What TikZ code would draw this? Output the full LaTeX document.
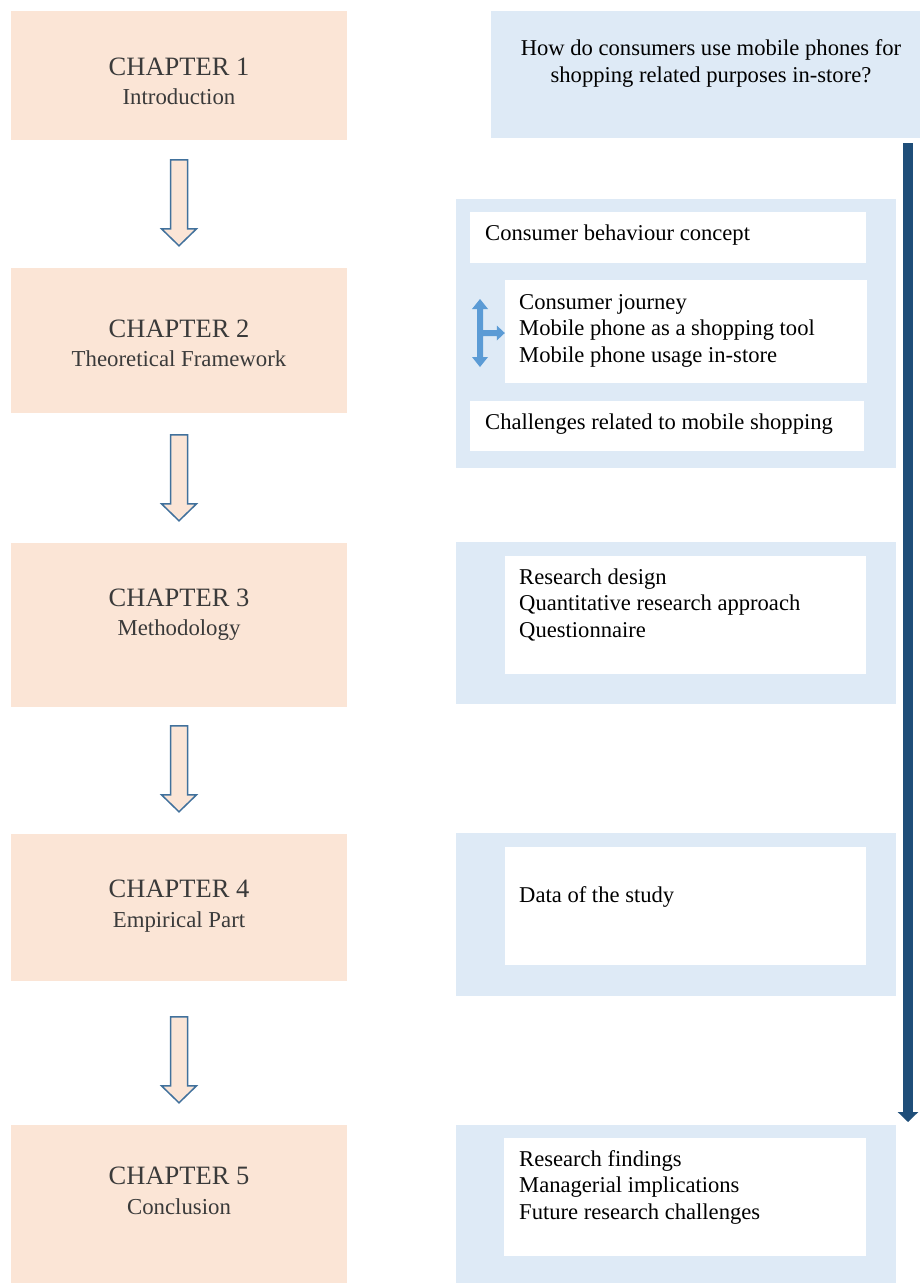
\documentclass[tikz,border=0pt]{standalone}
\usepackage{fontspec}
\setmainfont{Liberation Serif}
\usetikzlibrary{calc,arrows.meta}
\definecolor{chapfill}{HTML}{FBE5D6}
\definecolor{panelfill}{HTML}{DEEAF6}
\definecolor{arrline}{HTML}{41719C}
\definecolor{darkblue}{HTML}{1F4E79}
\definecolor{midblue}{HTML}{5B9BD5}
\definecolor{chaptext}{HTML}{3A3A3A}
\tikzset{
  chapbox/.style={fill=chapfill, draw=none},
  panel/.style={fill=panelfill, draw=none},
  whitebox/.style={fill=white, draw=none},
  chaptitle/.style={font=\fontsize{26.5}{30}\selectfont, text=chaptext, inner sep=0pt, anchor=base},
  chapsub/.style={font=\fontsize{22.8}{27}\selectfont, text=chaptext, inner sep=0pt, anchor=base},
  txt/.style={font=\fontsize{22.6}{26.5}\selectfont, text=black, inner sep=0pt, anchor=base west},
  blockarr/.style={fill=chapfill, draw=arrline, line width=1.5pt, line join=miter},
  branchar/.style={fill=midblue, draw=none},
}
\newcommand{\chaparrow}[1]{%
  \draw[blockarr] ($(#1.north)+(-8.5,-108)$) -- ($(#1.north)+(8.5,-108)$) -- ($(#1.north)+(8.5,-39)$) -- ($(#1.north)+(17.5,-39)$) -- ($(#1.north)+(0,-22)$) -- ($(#1.north)+(-17.5,-39)$) -- ($(#1.north)+(-8.5,-39)$) -- cycle;}
\begin{document}
\begin{tikzpicture}[x=1pt,y=-1pt]
\useasboundingbox (0,0) rectangle (920,1283);
\fill[white] (0,0) rectangle (920,1283);
% chapter boxes
\node[chapbox, minimum width=336pt, minimum height=129pt, inner sep=0pt] (c1) at (179,75.5) {};
\node[chapbox, minimum width=336pt, minimum height=145pt, inner sep=0pt] (c2) at (179,340.5) {};
\node[chapbox, minimum width=336pt, minimum height=164pt, inner sep=0pt] (c3) at (179,625) {};
\node[chapbox, minimum width=336pt, minimum height=147pt, inner sep=0pt] (c4) at (179,907.5) {};
\node[chapbox, minimum width=336pt, minimum height=158pt, inner sep=0pt] (c5) at (179,1204) {};
\node[chaptitle] (c1t) at (179,75) {CHAPTER 1};
\node[chapsub] (c1s) at (179,104) {Introduction};
\node[chaptitle] (c2t) at (179,337) {CHAPTER 2};
\node[chapsub] (c2s) at (179,366) {Theoretical Framework};
\node[chaptitle] (c3t) at (179,606) {CHAPTER 3};
\node[chapsub] (c3s) at (179,635) {Methodology};
\node[chaptitle] (c4t) at (179,897) {CHAPTER 4};
\node[chapsub] (c4s) at (179,927) {Empirical Part};
\node[chaptitle] (c5t) at (179,1184) {CHAPTER 5};
\node[chapsub] (c5s) at (179,1214) {Conclusion};
% block arrows
\chaparrow{c2}
\chaparrow{c3}
\chaparrow{c4}
\chaparrow{c5}
% question box
\node[panel, minimum width=429pt, minimum height=127pt, inner sep=0pt] (q) at (705.5,74.5) {};
\node[font=\fontsize{22.6}{26.5}\selectfont, inner sep=0pt, anchor=base] (q1) at (711,55) {How do consumers use mobile phones for};
\node[font=\fontsize{22.6}{26.5}\selectfont, inner sep=0pt, anchor=base] (q2) at (711,82) {shopping related purposes in-store?};
% long dark arrow
\coordinate (vtop) at (908,143);
\coordinate (vbot) at (908,1122);
\draw[darkblue, line width=10pt, -{Triangle[width=20pt,length=10pt]}] (vtop) -- (vbot);
% panel 2
\node[panel, minimum width=440pt, minimum height=269pt, inner sep=0pt] (p2) at (676,333.5) {};
\node[whitebox, minimum width=396pt, minimum height=51pt, inner sep=0pt] (w2a) at (668,237.5) {};
\node[whitebox, minimum width=362pt, minimum height=103pt, inner sep=0pt] (w2b) at (686,331.5) {};
\node[whitebox, minimum width=394pt, minimum height=50pt, inner sep=0pt] (w2c) at (667,426) {};
\node[txt] (t2a) at (485,240) {Consumer behaviour concept};
\node[txt] (t2b1) at (519,309) {Consumer journey};
\node[txt] (t2b2) at (519,335.5) {Mobile phone as a shopping tool};
\node[txt] (t2b3) at (519,362) {Mobile phone usage in-store};
\node[txt] (t2c) at (485,429) {Challenges related to mobile shopping};
% double-headed arrow with branch into the inner box
\coordinate (dtip) at (w2b.west |- 0,333);
\fill[branchar] (480,299) -- (488,309) -- (483,309) -- (483,330) -- ($(dtip)+(-8,-3)$) -- ($(dtip)+(-8,-7.5)$) -- (dtip) -- ($(dtip)+(-8,7.5)$) -- ($(dtip)+(-8,3)$) -- (483,336) -- (483,357) -- (488,357) -- (480,367) -- (472,357) -- (477,357) -- (477,309) -- (472,309) -- cycle;
% panel 3
\node[panel, minimum width=440pt, minimum height=162pt, inner sep=0pt] (p3) at (676,623) {};
\node[whitebox, minimum width=361pt, minimum height=118pt, inner sep=0pt] (w3) at (685.5,615) {};
\node[txt] (t31) at (519,584) {Research design};
\node[txt] (t32) at (519,610.5) {Quantitative research approach};
\node[txt] (t33) at (519,637) {Questionnaire};
% panel 4
\node[panel, minimum width=440pt, minimum height=163pt, inner sep=0pt] (p4) at (676,914.5) {};
\node[whitebox, minimum width=361pt, minimum height=118pt, inner sep=0pt] (w4) at (685.5,906) {};
\node[txt] (t41) at (519,902) {Data of the study};
% panel 5
\node[panel, minimum width=440pt, minimum height=158pt, inner sep=0pt] (p5) at (676,1204) {};
\node[whitebox, minimum width=362pt, minimum height=118pt, inner sep=0pt] (w5) at (685,1197) {};
\node[txt] (t51) at (519,1166) {Research findings};
\node[txt] (t52) at (519,1192.5) {Managerial implications};
\node[txt] (t53) at (519,1219) {Future research challenges};
\end{tikzpicture}
\end{document}
